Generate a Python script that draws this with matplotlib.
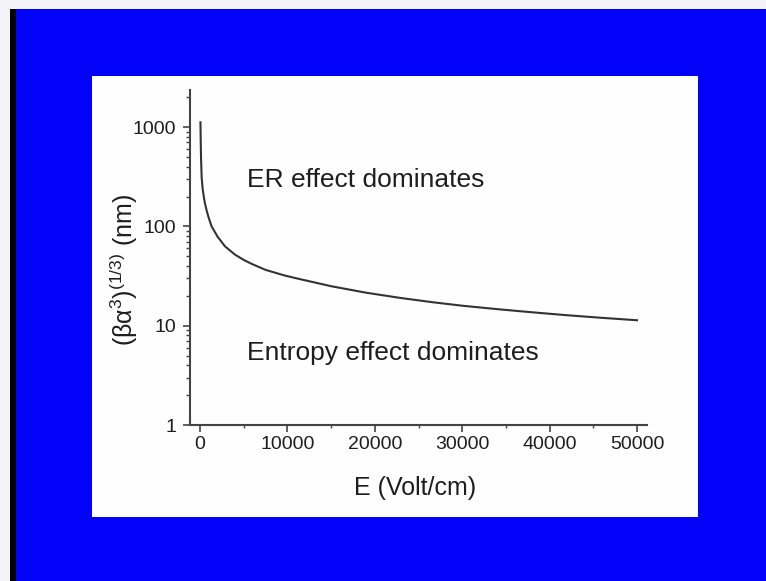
import matplotlib
matplotlib.use("Agg")
import matplotlib.pyplot as plt
from matplotlib.patches import Rectangle
from matplotlib.ticker import LogLocator, FixedLocator, NullFormatter

plt.rcParams['font.family'] = ['Liberation Sans', 'DejaVu Sans']
plt.rcParams['mathtext.fontset'] = 'custom'
plt.rcParams['mathtext.rm'] = 'Liberation Sans'
plt.rcParams['mathtext.it'] = 'Liberation Sans'

# field (V/cm) and critical size (nm)
E = [50, 80, 120, 190, 300, 450, 570, 800, 1000, 1330, 2000, 2860, 4000, 5000,
     5900, 7500, 9700, 11400, 15000, 19000, 23000, 26700, 30000, 34300, 38000,
     42000, 46000, 50000]
size = [1120, 760, 480, 313, 240, 195, 170, 140, 122, 100, 79, 63, 52, 46,
        42, 36.5, 32, 29.5, 25, 21.5, 19.0, 17.2, 15.9, 14.6, 13.65,
        12.75, 12.0, 11.35]

x_ticks = [0, 10000, 20000, 30000, 40000, 50000]
y_ticks = [1, 10, 100, 1000]

W, H = 766, 581
fig = plt.figure(figsize=(W / 100, H / 100), dpi=100)
fig.patch.set_facecolor('#0202f8')

# slide decoration: white top band, black left strip, white panel
deco = dict(transform=fig.transFigure, edgecolor='none', zorder=-10)
fig.add_artist(Rectangle((0, 1 - 9 / H), 1, 9 / H, facecolor='#f4f4f8', **deco))
fig.add_artist(Rectangle((0, 0), 10 / W, 1 - 9 / H, facecolor='#f4f4f8', **deco))
fig.add_artist(Rectangle((10 / W, 0), 6 / W, 1 - 9 / H, facecolor='black', **deco))
fig.add_artist(Rectangle((92 / W, (H - 517) / H), 606 / W, 441 / H,
                         facecolor='#fefefe', **deco))

ax = fig.add_axes([190 / W, (H - 425) / H, 457 / W, 335 / H])
ax.set_facecolor('none')
ax.plot(E, size, color='#333333', lw=1.5)

ax.set_yscale('log')
ax.set_xlim(-1144, 51144)
ax.set_ylim(1, 2365)

ax.xaxis.set_major_locator(FixedLocator(x_ticks))
ax.xaxis.set_minor_locator(FixedLocator([5000, 15000, 25000, 35000, 45000]))
ax.set_xticklabels([str(t) for t in x_ticks])
ax.yaxis.set_major_locator(FixedLocator(y_ticks))
ax.set_yticklabels([str(t) for t in y_ticks])
ax.yaxis.set_minor_locator(LogLocator(base=10, subs=range(2, 10)))
ax.yaxis.set_minor_formatter(NullFormatter())

for s in ['top', 'right']:
    ax.spines[s].set_visible(False)
for s in ['left', 'bottom']:
    ax.spines[s].set_color('#444444')
    ax.spines[s].set_linewidth(1.5)

ax.tick_params(which='major', direction='out', length=5, width=1.2,
               color='#444444', labelsize=14, labelcolor='#1e1e1e')
ax.tick_params(axis='y', which='major', pad=5)
ax.tick_params(axis='x', which='major', pad=3)
ax.tick_params(which='minor', direction='out', length=3, width=1,
               color='#444444')
ax.tick_params(axis='x', which='minor', length=2)

ax.set_xlabel('E (Volt/cm)', fontsize=18, color='#1e1e1e')
ax.xaxis.set_label_coords(0.492, -0.152)
ax.set_ylabel('(βα$^{3}$)$^{(1/3)}$ (nm)', fontsize=18, color='#1e1e1e')
ax.yaxis.set_label_coords(-0.11, 0.463)

ax.text(0.1247, 0.71, 'ER effect dominates', transform=ax.transAxes,
        fontsize=19, color='#1e1e1e', ha='left', va='baseline')
ax.text(0.1247, 0.194, 'Entropy effect dominates', transform=ax.transAxes,
        fontsize=19, color='#1e1e1e', ha='left', va='baseline')

fig.savefig('out.png', dpi=100, facecolor=fig.get_facecolor())
